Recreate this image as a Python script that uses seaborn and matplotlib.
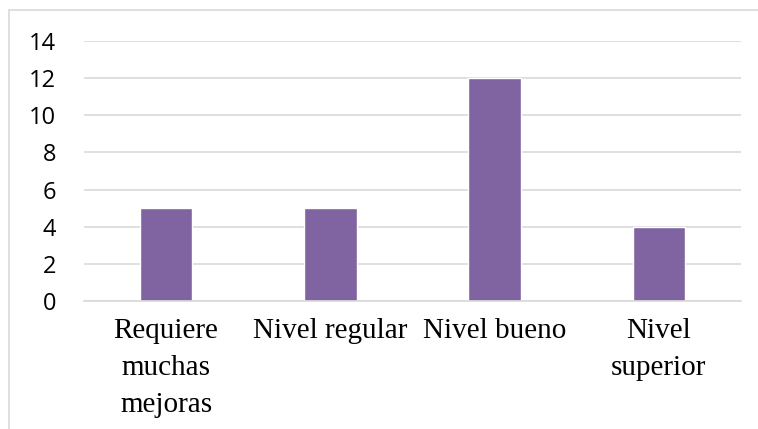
import matplotlib
matplotlib.use("Agg")
import matplotlib.pyplot as plt
import seaborn as sns
import pandas as pd

categorias = ["Requiere\nmuchas\nmejoras", "Nivel regular", "Nivel bueno", "Nivel\nsuperior"]
valores = [5, 5, 12, 4]
ticks_y = [0, 2, 4, 6, 8, 10, 12, 14]

df = pd.DataFrame({"categoria": categorias, "valor": valores})

sns.set_style("white")
fig = plt.figure(figsize=(7.58, 4.29), dpi=100)
ax = fig.add_axes([84 / 758, 1 - 301 / 429, (741 - 84) / 758, (301 - 41) / 429])

sns.barplot(data=df, x="categoria", y="valor", color="#8064A2", saturation=1,
            width=0.32, ax=ax)

ax.set_ylim(0, 14)
ax.set_xlim(-0.5, 3.5)
ax.set_yticks(ticks_y)
ax.yaxis.grid(True, color="#D9D9D9", linewidth=1.2)
ax.set_axisbelow(True)
for s in ["top", "right", "left"]:
    ax.spines[s].set_visible(False)
ax.spines["bottom"].set_color("#D9D9D9")
ax.spines["bottom"].set_linewidth(1.2)
ax.set_xlabel("")
ax.set_ylabel("")
ax.tick_params(axis="both", length=0)
ax.tick_params(axis="y", pad=20)
ax.tick_params(axis="x", pad=12)

for lab in ax.get_yticklabels():
    lab.set_fontfamily("Open Sans")
    lab.set_fontsize(17)
    lab.set_color("black")
for lab in ax.get_xticklabels():
    lab.set_fontfamily("Liberation Serif")
    lab.set_fontsize(21)
    lab.set_linespacing(1.55)
    lab.set_verticalalignment("top")
    lab.set_color("black")

# chart border (top and left visible in the crop)
fig.add_artist(plt.Line2D([9 / 758, 1], [1 - 10 / 429, 1 - 10 / 429],
                          transform=fig.transFigure, color="#D9D9D9", linewidth=1.2))
fig.add_artist(plt.Line2D([9 / 758, 9 / 758], [0, 1 - 10 / 429],
                          transform=fig.transFigure, color="#D9D9D9", linewidth=1.2))

plt.savefig("out.png", dpi=100)
